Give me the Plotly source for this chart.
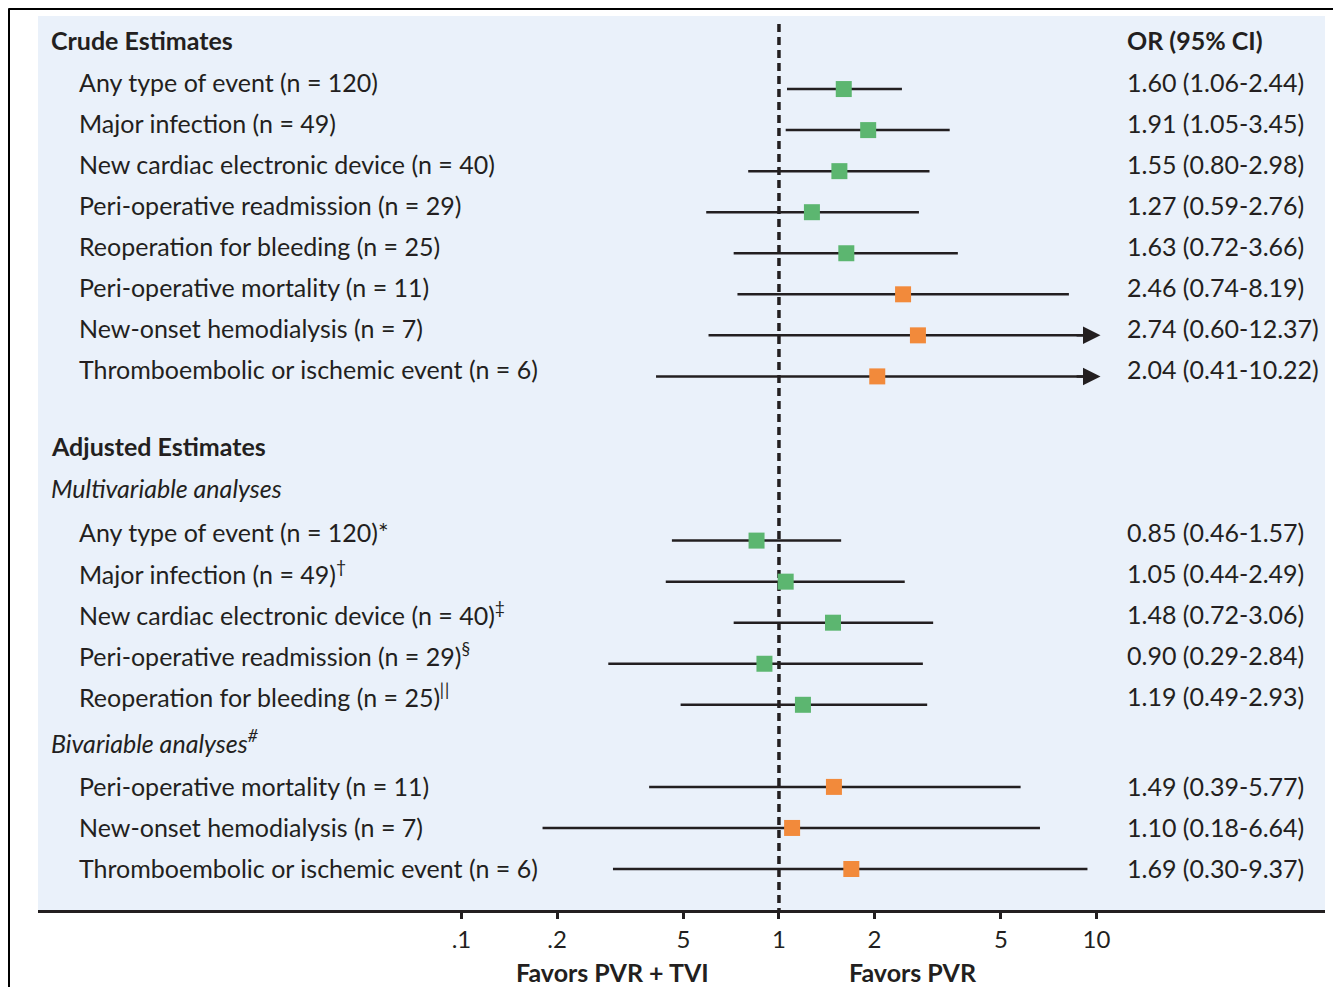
import numpy as np
import plotly.graph_objects as go

# ---------------- data ----------------
crude_labels = [
    "Any type of event (n = 120)",
    "Major infection (n = 49)",
    "New cardiac electronic device (n = 40)",
    "Peri-operative readmission (n = 29)",
    "Reoperation for bleeding (n = 25)",
    "Peri-operative mortality (n = 11)",
    "New-onset hemodialysis (n = 7)",
    "Thromboembolic or ischemic event (n = 6)",
]
crude_or = [1.60, 1.91, 1.55, 1.27, 1.63, 2.46, 2.74, 2.04]
crude_lo = [1.06, 1.05, 0.80, 0.59, 0.72, 0.74, 0.60, 0.41]
crude_hi = [2.44, 3.45, 2.98, 2.76, 3.66, 8.19, 12.37, 10.22]
crude_group = ["g", "g", "g", "g", "g", "o", "o", "o"]

multi_labels = [
    "Any type of event (n = 120)*",
    "Major infection (n = 49)<sup>†</sup>",
    "New cardiac electronic device (n = 40)<sup>‡</sup>",
    "Peri-operative readmission (n = 29)<sup>§</sup>",
    "Reoperation for bleeding (n = 25)<sup>ǁ</sup>",
]
multi_or = [0.85, 1.05, 1.48, 0.90, 1.19]
multi_lo = [0.46, 0.44, 0.72, 0.29, 0.49]
multi_hi = [1.57, 2.49, 3.06, 2.84, 2.93]

biv_labels = [
    "Peri-operative mortality (n = 11)",
    "New-onset hemodialysis (n = 7)",
    "Thromboembolic or ischemic event (n = 6)",
]
biv_or = [1.49, 1.10, 1.69]
biv_lo = [0.39, 0.18, 0.30]
biv_hi = [5.77, 6.64, 9.37]

tick_vals = [0.1, 0.2, 0.5, 1, 2, 5, 10]
tick_text = [".1", ".2", "5", "1", "2", "5", "10"]

# ---------------- style ----------------
OFF = 8  # page body margin
W, H = 1341 - OFF, 987 - OFF
PLOT_L, PLOT_R, PLOT_T, PLOT_B = 38, 1325, 16, 910  # page pixels
X_LEFT_LOG = -2.334
X_RIGHT_LOG = 1.720
AXIS_MAX = 10.0
ARROW_TIP = 10.3
DARK = "#231F20"
GREEN = "#5CB670"
ORANGE = "#F28A3B"
BG = "#EAF1FA"
FONT = "Lato"
FS = 25

ROW0 = 48.0
ROWSTEP = 41.05

LABEL_X = 77
HEADER_X = 49
OR_X = 1125


def row_y(k):
    return ROW0 + ROWSTEP * k


def px_to_paper_x(px):
    return (px - PLOT_L) / (PLOT_R - PLOT_L)


def px_to_paper_y(py):
    return (PLOT_B - py) / (PLOT_B - PLOT_T)


fig = go.Figure()
annotations = []

crude_rows = list(range(1, 9))
multi_rows = list(range(12, 17))
biv_rows = list(range(18, 21))

sections = [
    (crude_labels, crude_or, crude_lo, crude_hi,
     [GREEN if g == "g" else ORANGE for g in crude_group], crude_rows, -7),
    (multi_labels, multi_or, multi_lo, multi_hi, [GREEN] * len(multi_or), multi_rows, -9),
    (biv_labels, biv_or, biv_lo, biv_hi, [ORANGE] * len(biv_or), biv_rows, -1),
]

# dashed reference line at OR = 1
fig.add_trace(go.Scatter(x=[1, 1], y=[24, PLOT_B], mode="lines",
                         line=dict(color=DARK, width=3.5, dash="8px,5px"),
                         hoverinfo="skip", showlegend=False))

for labels, ors, los, his, cols, rows, toff in sections:
    for lab, o, lo, hi, c, r in zip(labels, ors, los, his, cols, rows):
        y = row_y(r)
        clipped = hi > AXIS_MAX
        end = ARROW_TIP * 0.95 if clipped else hi
        fig.add_trace(go.Scatter(x=[lo, end], y=[y, y], mode="lines",
                                 line=dict(color=DARK, width=2.5),
                                 hoverinfo="skip", showlegend=False))
        if clipped:
            annotations.append(dict(
                x=np.log10(ARROW_TIP), y=y, xref="x", yref="y",
                ax=np.log10(ARROW_TIP) - 0.08, ay=y, axref="x", ayref="y",
                showarrow=True, arrowhead=2, arrowsize=1.4, arrowwidth=2.5,
                arrowcolor=DARK, text=""))
        fig.add_trace(go.Scatter(x=[o], y=[y], mode="markers",
                                 marker=dict(symbol="square", size=16, color=c,
                                             line=dict(width=0)),
                                 hoverinfo="skip", showlegend=False))
        annotations.append(dict(
            x=px_to_paper_x(LABEL_X), y=y + toff, xref="paper", yref="y",
            text=lab, showarrow=False, xanchor="left", yanchor="middle",
            font=dict(family=FONT, size=FS, color=DARK)))
        annotations.append(dict(
            x=px_to_paper_x(OR_X), y=y + toff, xref="paper", yref="y",
            text=f"{o:.2f} ({lo:.2f}-{hi:.2f})", showarrow=False,
            xanchor="left", yanchor="middle",
            font=dict(family=FONT, size=FS, color=DARK)))

headers = [
    ("<b>Crude Estimates</b>", 0, -8),
    ("<b>Adjusted Estimates</b>", 10, -13),
    ("<i>Multivariable analyses</i>", 11, -12),
    ("<i>Bivariable analyses</i><sup><i>#</i></sup>", 17, -4),
]
for t, r, off in headers:
    annotations.append(dict(
        x=px_to_paper_x(HEADER_X), y=row_y(r) + off, xref="paper", yref="y",
        text=t, showarrow=False, xanchor="left", yanchor="middle",
        font=dict(family=FONT, size=FS, color=DARK)))
annotations.append(dict(
    x=px_to_paper_x(OR_X), y=row_y(0) - 8, xref="paper", yref="y",
    text="<b>OR (95% CI)</b>", showarrow=False, xanchor="left", yanchor="middle",
    font=dict(family=FONT, size=FS, color=DARK)))

annotations.append(dict(
    x=px_to_paper_x(612), y=px_to_paper_y(972), xref="paper", yref="paper",
    text="<b>Favors PVR + TVI</b>", showarrow=False, xanchor="center", yanchor="middle",
    font=dict(family=FONT, size=FS, color=DARK)))
annotations.append(dict(
    x=px_to_paper_x(913), y=px_to_paper_y(972), xref="paper", yref="paper",
    text="<b>Favors PVR</b>", showarrow=False, xanchor="center", yanchor="middle",
    font=dict(family=FONT, size=FS, color=DARK)))

FRAME = OFF + 0.5
shapes = [
    dict(type="line", xref="paper", yref="paper",
         x0=px_to_paper_x(FRAME), x1=px_to_paper_x(1345),
         y0=px_to_paper_y(FRAME), y1=px_to_paper_y(FRAME),
         line=dict(color="black", width=3)),
    dict(type="line", xref="paper", yref="paper",
         x0=px_to_paper_x(FRAME), x1=px_to_paper_x(FRAME),
         y0=px_to_paper_y(FRAME), y1=px_to_paper_y(995),
         line=dict(color="black", width=3)),
]

fig.update_layout(
    width=W, height=H,
    margin=dict(l=PLOT_L - OFF, r=W - (PLOT_R - OFF), t=PLOT_T - OFF, b=H - (PLOT_B - OFF)),
    paper_bgcolor="white", plot_bgcolor=BG,
    showlegend=False,
    annotations=annotations,
    shapes=shapes,
    xaxis=dict(type="log", range=[X_LEFT_LOG, X_RIGHT_LOG],
               tickvals=tick_vals, ticktext=tick_text,
               ticks="outside", ticklen=6, tickwidth=3, tickcolor=DARK,
               showline=True, linewidth=3, linecolor=DARK,
               showgrid=False, zeroline=False,
               tickfont=dict(family=FONT, size=FS - 1, color=DARK)),
    yaxis=dict(range=[PLOT_B, PLOT_T], showgrid=False, zeroline=False,
               showticklabels=False, showline=False, ticks=""),
)

fig.write_html("out.html")
